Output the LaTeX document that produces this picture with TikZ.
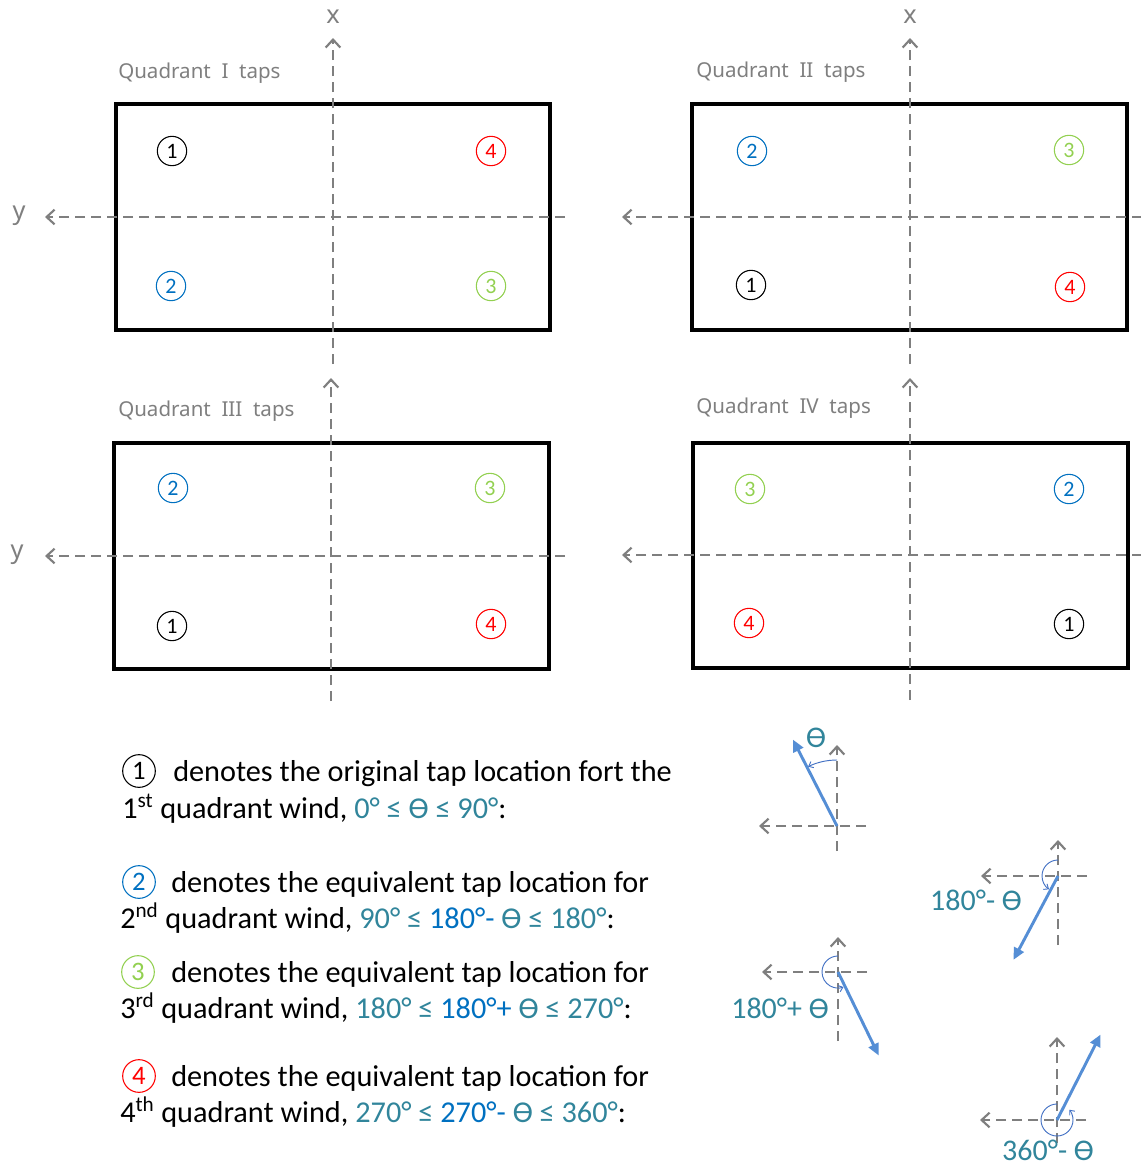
\documentclass[tikz,border=0pt]{standalone}
\usepackage{fontspec}
\setmainfont{Carlito}
\newfontfamily\axfont{Noto Sans}
\usetikzlibrary{arrows.meta}

\definecolor{axisgray}{RGB}{127,127,127}
\definecolor{angteal}{RGB}{49,133,155}
\definecolor{tapblue}{RGB}{0,112,192}
\definecolor{tapgreen}{RGB}{146,208,80}
\definecolor{tapred}{RGB}{255,0,0}
\definecolor{windblue}{RGB}{85,142,213}
\definecolor{arcblue}{RGB}{68,114,196}

\begin{document}
\begin{tikzpicture}[
  x=0.75pt, y=-0.75pt,
  axis/.style={draw=axisgray,line width=1.7pt,dash pattern=on 7.5pt off 4.5pt,
               -{Straight Barb[length=6pt,width=11pt,line width=1.6pt]}},
  tapbox/.style={draw=black,line width=2.6pt},
  tap/.style={circle,draw=#1,text=#1,line width=0.8pt,inner sep=0pt,
              minimum size=22pt,font=\fontsize{16.5}{16.5}\selectfont},
  bigtap/.style={tap=#1,minimum size=24.5pt,font=\fontsize{20}{20}\selectfont},
  qlab/.style={anchor=west,inner sep=0pt,text=axisgray,font=\axfont\fontsize{15.4}{16}\selectfont},
  axlab/.style={text=axisgray,font=\axfont\fontsize{19}{19}\selectfont},
  legend/.style={anchor=base west,inner sep=0pt,font=\fontsize{22.7}{26}\selectfont},
  wind/.style={draw=windblue,line width=2.2pt,-{Triangle[length=9pt,width=8pt]}},
  angarc/.style={draw=arcblue,line width=0.7pt,-{Straight Barb[length=3pt,width=5pt]}},
  anglab/.style={text=angteal,font=\fontsize{22.5}{22.5}\selectfont}
]
\useasboundingbox (0,0) rectangle (1141,1167);

% ===================== Quadrant I =====================
\begin{scope}[shift={(333,217)}]
  \draw[tapbox] (-217,-113) rectangle (217,113);
  \draw[axis] (0,147) -- (0,-179);
  \draw[axis] (232,0) -- (-288,0);
  \node[axlab] (x1) at (0,-200) {x};
  \node[axlab] (y1) at (-314,-1) {y};
  \node[qlab] (q1lab) at (-215,-144) {Quadrant\ \ I\ \ taps};
  \node[tap=black]    (q1a) at (-161,-66) {1};
  \node[tap=tapred]   (q1d) at (158,-66) {4};
  \node[tap=tapblue]  (q1b) at (-162,69) {2};
  \node[tap=tapgreen] (q1c) at (158,69) {3};
\end{scope}

% ===================== Quadrant II =====================
\begin{scope}[shift={(910,217)}]
  \draw[tapbox] (-218,-113) rectangle (217,113);
  \draw[axis] (0,147) -- (0,-179);
  \draw[axis] (232,0) -- (-288,0);
  \node[axlab] (x2) at (0,-200) {x};
  \node[qlab] (q2lab) at (-214,-145) {Quadrant\ \ II\ \ taps};
  \node[tap=tapblue]  (q2b) at (-158,-66) {2};
  \node[tap=tapgreen] (q2c) at (159,-67) {3};
  \node[tap=black]    (q2a) at (-159,68) {1};
  \node[tap=tapred]   (q2d) at (160,70) {4};
\end{scope}

% ===================== Quadrant III =====================
\begin{scope}[shift={(331,556)}]
  \draw[tapbox] (-217,-113) rectangle (218,113);
  \draw[axis] (0,145) -- (0,-178);
  \draw[axis] (234,0) -- (-286,0);
  \node[axlab] (y3) at (-314,-1) {y};
  \node[qlab] (q3lab) at (-213,-145) {Quadrant\ \ III\ \ taps};
  \node[tap=tapblue]  (q3b) at (-158,-68) {2};
  \node[tap=tapgreen] (q3c) at (159,-68) {3};
  \node[tap=black]    (q3a) at (-159,70) {1};
  \node[tap=tapred]   (q3d) at (160,68) {4};
\end{scope}

% ===================== Quadrant IV =====================
\begin{scope}[shift={(910,555)}]
  \draw[tapbox] (-217,-112) rectangle (218,113);
  \draw[axis] (0,145) -- (0,-177);
  \draw[axis] (232,0) -- (-288,0);
  \node[qlab] (q4lab) at (-214,-147) {Quadrant\ \ IV\ \ taps};
  \node[tap=tapgreen] (q4c) at (-160,-66) {3};
  \node[tap=tapblue]  (q4b) at (159,-66) {2};
  \node[tap=tapred]   (q4d) at (-161,68) {4};
  \node[tap=black]    (q4a) at (159,69) {1};
\end{scope}

% ===================== legend text =====================
\node[bigtap=black] (n1) at (139,771) {1};
\node[legend] (l1a) at (173,781) {denotes the original tap location fort the};
\node[legend] (l1b) at (122,818) {1\textsuperscript{st} quadrant wind, \textcolor{angteal}{0° ≤ Ɵ ≤ 90°}:};

\node[bigtap=tapblue] (n2) at (139,882) {2};
\node[legend] (l2a) at (171,892) {denotes the equivalent tap location for};
\node[legend] (l2b) at (120,928) {2\textsuperscript{nd} quadrant wind, \textcolor{angteal}{90° ≤} \textcolor{tapblue}{180°-} \textcolor{angteal}{Ɵ ≤ 180°}:};

\node[bigtap=tapgreen] (n3) at (138,972) {3};
\node[legend] (l3a) at (171,982) {denotes the equivalent tap location for};
\node[legend] (l3b) at (120,1018) {3\textsuperscript{rd} quadrant wind, \textcolor{angteal}{180° ≤} \textcolor{tapblue}{180°+} \textcolor{angteal}{Ɵ ≤ 270°}:};

\node[bigtap=tapred] (n4) at (139,1076) {4};
\node[legend] (l4a) at (171,1086) {denotes the equivalent tap location for};
\node[legend] (l4b) at (120,1122) {4\textsuperscript{th} quadrant wind, \textcolor{angteal}{270° ≤} \textcolor{tapblue}{270°-} \textcolor{angteal}{Ɵ ≤ 360°}:};

% ===================== wind angle sketches =====================
% first quadrant
\begin{scope}[shift={(837,826)},yscale=-1]
  \draw[axis] (0,-25) -- (0,81);
  \draw[axis] (29,0) -- (-78,0);
  \draw[wind] (0,0) -- (117:97);
  \draw[angarc] (90:66) arc[start angle=90,end angle=116,radius=66];
  \node[anglab] (t1) at (-21,88) {Ɵ};
\end{scope}
% second quadrant
\begin{scope}[shift={(1058,876)},yscale=-1]
  \draw[axis] (0,-69) -- (0,36);
  \draw[axis] (29,0) -- (-77,0);
  \draw[wind] (0,0) -- (242:95);
  \draw[angarc] (90:16) arc[start angle=90,end angle=236,radius=16];
  \node[anglab] (t2) at (-82,-24) {180°- Ɵ};
\end{scope}
% third quadrant
\begin{scope}[shift={(838,972)},yscale=-1]
  \draw[axis] (0,-69) -- (0,35);
  \draw[axis] (29,0) -- (-76,0);
  \draw[wind] (0,0) -- (296:93);
  \draw[angarc] (90:16) arc[start angle=90,end angle=290,radius=16];
  \node[anglab] (t3) at (-58,-36) {180°+ Ɵ};
\end{scope}
% fourth quadrant
\begin{scope}[shift={(1057,1120)},yscale=-1]
  \draw[axis] (0,-23) -- (0,83);
  \draw[axis] (29,0) -- (-77,0);
  \draw[wind] (0,0) -- (63:96);
  \draw[angarc] (90:16) arc[start angle=90,end angle=400,radius=16];
  \node[anglab] (t4) at (-9,-30) {360°- Ɵ};
\end{scope}

\end{tikzpicture}
\end{document}
